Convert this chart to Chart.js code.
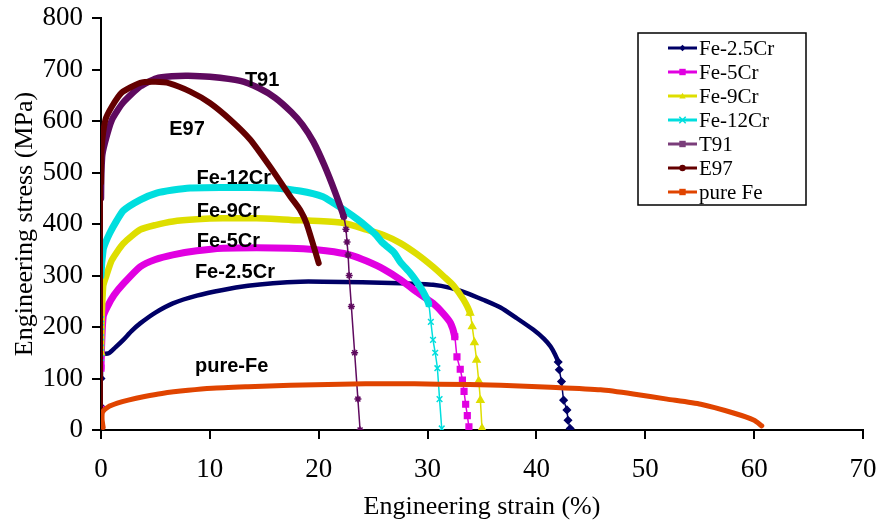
<!DOCTYPE html>
<html><head><meta charset="utf-8">
<script src="https://cdn.jsdelivr.net/npm/chart.js@4.4.1/dist/chart.umd.min.js"></script>
<style>html,body{margin:0;padding:0;background:#fff}#wrap{width:879px;height:524px;position:relative}</style>
</head><body><div id="wrap"><canvas id="c"></canvas></div>
<script>
// ---- data ----
const seriesNames = ['Fe-2.5Cr','Fe-5Cr','Fe-9Cr','Fe-12Cr','T91','E97','pure Fe'];
const curveLabels = ['Fe-2.5Cr','Fe-5Cr','Fe-9Cr','Fe-12Cr','T91','E97','pure-Fe'];
const labelStrain = [12.3, 11.7, 11.7, 12.2, 14.8, 7.9, 12.0];
const labelStress = [305, 367, 425, 488, 679, 583, 124];

const fe25Strain = [0,0,0,0.06,0.7,1.3,2.05,2.8,3.6,5.0,6.6,8.8,11.2,13.5,15.8,18.3,20.4,24.0,27.5,30.5,32.1,33.6,35.1,36.7,38.2,39.7,40.7,41.3,41.7,42.0,42.1,42.3,42.5,42.8,42.9,43.1];
const fe25Stress = [0,45,100,146,149,160,175,192,207,228,246,261,272,280,285,288,288,287,285,282,276,266,253,238,217,195,177,162,147,132,117,94,58,39,19,3];

const fe5Strain = [0,0,0,0.2,0.6,1.2,2.1,3.6,5.0,6.6,8.8,11.2,14.3,17.4,19.8,21.4,23.0,24.4,26.0,27.5,29.0,30.5,31.4,32.1,32.5,32.7,33.0,33.2,33.35,33.5,33.65,33.8];
const fe5Stress = [0,40,120,220,240,262,285,317,331,340,348,353,354,353,350,346,339,328,312,292,268,246,227,208,181,142,118,97,75,50,28,6];

const fe9Strain = [0,0,0.2,0.5,1.0,2.05,3.6,5.0,6.6,8.8,11.2,14.3,17.4,20.0,22.3,24.4,26.0,27.5,29.0,30.5,31.5,32.4,33.3,33.9,34.1,34.3,34.5,34.7,34.85,35.0];
const fe9Stress = [0,150,279,300,330,362,389,398,405,409,411,411,408,406,402,389,378,363,342,317,298,280,253,227,201,170,136,95,58,3];

const fe12Strain = [0,0,0,0,0,0,0,0.2,0.4,0.8,1.4,2.05,3.6,5.1,6.6,8.2,11.2,13.5,15.8,18.3,20.4,21.4,22.5,23.5,24.4,25.2,25.9,26.9,27.5,28.4,29.0,29.6,30.1,30.3,30.5,30.7,30.9,31.1,31.3];
const fe12Stress = [0,140,160,180,200,215,300,350,363,382,405,426,447,460,466,470,471,471,470,464,453,440,425,410,395,380,363,345,326,305,288,268,245,210,175,150,120,60,3];

const t91Strain = [0,0,0,0.1,0.35,1.0,2.0,3.6,5.1,6.5,8.0,10.0,12.8,14.5,16.0,17.5,18.5,19.5,20.5,21.5,22.3,22.5,22.6,22.7,22.8,23.0,23.3,23.6,23.8];
const t91Stress = [0,200,450,530,557,602,635,667,683,687,688,686,678,664,645,617,593,560,515,462,414,390,365,340,300,240,150,60,0];

const e97Strain = [0,0,0.05,0.4,1.0,1.9,3.6,5.0,6.3,8.2,10.0,11.9,13.7,15.5,17.4,18.3,18.9,20.0];
const e97Stress = [0,480,545,602,628,655,674,676,673,657,635,602,564,512,453,427,400,324];

const pureFeStrain = [0.2,0.1,0.15,0.67,1.5,2.5,4.0,5.6,8.0,10.2,13.5,17.4,22.0,26.6,31.0,36.7,41.3,45.9,48.9,52.0,55.1,58.1,60.0,60.7];
const pureFeStress = [5,20,35,45,52,58,65,71,77,81,84,87,89,90,89,87,83,78,70,60,50,33,19,8];

const fractureFrom = [42.0, 32.5, 33.9, 30.1, 22.3, null, null];
const xTickValues = [0,10,20,30,40,50,60,70];
const yTickValues = [0,100,200,300,400,500,600,700,800];

// ---- styles ----
const colors = ['#000066','#e100e1','#dede00','#00dede','#5f0a5f','#640000','#e04400'];
const legendColors = ['#000066','#e100e1','#dede00','#00dede','#7a3d7a','#640000','#e04400'];
const thick = [4.5, 7, 6.5, 7, 6.5, 6, 5];
const thinV = [2, 2, 2, 2, 4, 4, 2];
const styles = ['rectRot','rect','triangle','crossRot','star','circle','rect'];
const radii = [3.5, 4, 4, 4, 3.5, 3, 3];

const strains = [fe25Strain, fe5Strain, fe9Strain, fe12Strain, t91Strain, e97Strain, pureFeStrain];
const stresses = [fe25Stress, fe5Stress, fe9Stress, fe12Stress, t91Stress, e97Stress, pureFeStress];

const serif = "'Liberation Serif','Times New Roman',serif";

const datasets = seriesNames.map((name, i) => {
  const fr = fractureFrom[i];
  const isMarked = (x, y, idx) => (fr !== null && x >= fr - 1e-9) || (i < 4 && x === 0 && y > 0 && idx > 0);
  return {
    label: name,
    data: strains[i].map((x, k) => ({x, y: stresses[i][k]})),
    borderColor: colors[i],
    backgroundColor: colors[i],
    borderWidth: thick[i],
    tension: 0.2,
    borderJoinStyle: 'round',
    borderCapStyle: 'round',
    pointStyle: styles[i],
    pointBorderColor: colors[i],
    pointBackgroundColor: colors[i],
    pointBorderWidth: 1.5,
    pointRadius: ctx => { const r = ctx.raw; return r && isMarked(r.x, r.y, ctx.dataIndex) ? radii[i] : 0; },
    pointHoverRadius: 0,
    order: seriesNames.length - i,
    segment: {
      borderWidth: ctx => {
        const a = ctx.p0.parsed, b = ctx.p1.parsed;
        if (fr !== null && a.x >= fr - 1e-9) return 1.5;
        if (a.x === 0 && b.x === 0) return thinV[i];
        return thick[i];
      }
    }
  };
});

function drawMarker(ctx, style, x, y, r, color) {
  ctx.save();
  ctx.fillStyle = color; ctx.strokeStyle = color; ctx.lineWidth = 1.5;
  ctx.beginPath();
  if (style === 'circle') { ctx.arc(x, y, r, 0, Math.PI * 2); ctx.fill(); }
  else if (style === 'rect') { ctx.fillRect(x - r, y - r, 2 * r, 2 * r); }
  else if (style === 'rectRot') { ctx.moveTo(x, y - r); ctx.lineTo(x + r, y); ctx.lineTo(x, y + r); ctx.lineTo(x - r, y); ctx.closePath(); ctx.fill(); }
  else if (style === 'triangle') { ctx.moveTo(x, y - r); ctx.lineTo(x + r, y + r * 0.8); ctx.lineTo(x - r, y + r * 0.8); ctx.closePath(); ctx.fill(); }
  else if (style === 'crossRot') { ctx.moveTo(x - r, y - r); ctx.lineTo(x + r, y + r); ctx.moveTo(x + r, y - r); ctx.lineTo(x - r, y + r); ctx.stroke(); }
  else { ctx.fillRect(x - r, y - r, 2 * r, 2 * r); }
  ctx.restore();
}

const legendPlugin = {
  id: 'boxLegend',
  afterDraw(chart) {
    const ctx = chart.ctx;
    const bx = 638, by = 33, bw = 168, bh = 172;
    ctx.save();
    ctx.fillStyle = '#fff';
    ctx.fillRect(bx, by, bw, bh);
    ctx.strokeStyle = '#000'; ctx.lineWidth = 1.5;
    ctx.strokeRect(bx, by, bw, bh);
    ctx.font = '21px ' + serif;
    ctx.textBaseline = 'middle';
    ctx.textAlign = 'left';
    seriesNames.forEach((n, i) => {
      const y = 48 + i * 24;
      ctx.strokeStyle = legendColors[i]; ctx.lineWidth = 3;
      ctx.beginPath(); ctx.moveTo(668, y); ctx.lineTo(697, y); ctx.stroke();
      drawMarker(ctx, styles[i], 682.5, y, 3.2, legendColors[i]);
      ctx.fillStyle = '#000';
      ctx.fillText(n, 699, y + 1);
    });
    ctx.restore();
  }
};

const labelPlugin = {
  id: 'curveLabels',
  afterDatasetsDraw(chart) {
    const ctx = chart.ctx, xs = chart.scales.x, ys = chart.scales.y;
    ctx.save();
    ctx.font = "bold 20px 'Liberation Sans',Arial,sans-serif";
    ctx.fillStyle = '#000';
    ctx.textAlign = 'center'; ctx.textBaseline = 'middle';
    curveLabels.forEach((t, i) => {
      ctx.fillText(t, xs.getPixelForValue(labelStrain[i]), ys.getPixelForValue(labelStress[i]));
    });
    ctx.restore();
  }
};

new Chart(document.getElementById('c'), {
  type: 'line',
  data: { datasets },
  plugins: [labelPlugin, legendPlugin],
  options: {
    responsive: true,
    maintainAspectRatio: false,
    animation: false,
    events: [],
    layout: { padding: { left: 0, top: 18, right: 16, bottom: 0 } },
    plugins: { legend: { display: false }, tooltip: { enabled: false } },
    scales: {
      x: {
        type: 'linear', min: 0, max: 70,
        afterBuildTicks: s => { s.ticks = xTickValues.map(v => ({value: v})); },
        afterFit: s => { s.height = 94; s.paddingLeft = 0; s.paddingRight = 0; },
        border: { color: '#000', width: 2 },
        grid: { drawOnChartArea: false, drawTicks: true, tickLength: 9, color: '#000', lineWidth: 2 },
        ticks: { color: '#000', font: { family: serif, size: 27 }, padding: 15, maxRotation: 0 },
        title: { display: true, text: 'Engineering strain (%)', color: '#000', font: { family: serif, size: 26 }, padding: { top: 0, bottom: 1 } }
      },
      y: {
        type: 'linear', min: 0, max: 800,
        afterBuildTicks: s => { s.ticks = yTickValues.map(v => ({value: v})); },
        afterFit: s => { s.width = 101; s.paddingTop = 0; s.paddingBottom = 0; },
        border: { color: '#000', width: 2 },
        grid: { drawOnChartArea: false, drawTicks: true, tickLength: 9, color: '#000', lineWidth: 2 },
        ticks: { color: '#000', font: { family: serif, size: 27 }, padding: 9 },
        title: { display: true, text: 'Engineering stress (MPa)', color: '#000', font: { family: serif, size: 26 }, padding: { top: 10, bottom: 0 } }
      }
    }
  }
});
</script></body></html>
